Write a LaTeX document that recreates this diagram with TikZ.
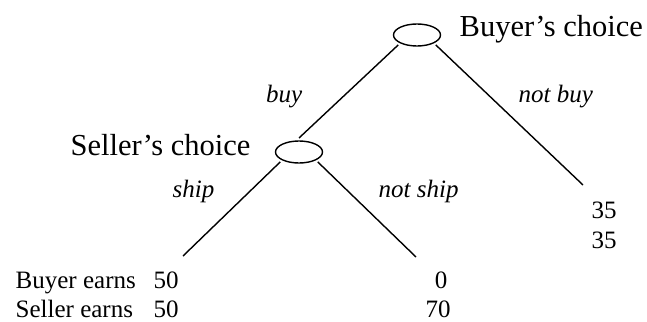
\documentclass[tikz,border=0pt]{standalone}
\usepackage{fontspec}
\setmainfont{Liberation Serif}
\usetikzlibrary{shapes.geometric}
\begin{document}
\begin{tikzpicture}[x=1pt, y=-1pt, line width=1.4pt,
    choice/.style={ellipse, draw, minimum width=47pt, minimum height=22pt, inner sep=0pt, outer sep=3pt},
    player/.style={font=\fontsize{30.5}{36}\selectfont, inner sep=0pt},
    move/.style={font=\fontsize{25}{30}\selectfont\itshape, inner sep=0pt},
    payoff/.style={font=\fontsize{25}{30}\selectfont, inner sep=0pt}]
        \useasboundingbox (0, 0) rectangle (647, 321);

        \node [ choice ] (buyer)  at (417,  35) {};
        \node [ choice ] (seller) at (299, 152) {};
        \coordinate (shipend)   at (183, 256);
        \coordinate (noshipend) at (416, 257);
        \coordinate (nobuyend)  at (583, 185);

        \draw (buyer.south west) -- (seller.north);
        \draw (buyer.south east) -- (nobuyend);
        \draw (seller.south west) -- (shipend);
        \draw (seller.south east) -- (noshipend);

        \node [ player, anchor=base west ] (buyername)  at (459,  37) {Buyer's choice};
        \node [ player, anchor=base west ] (sellername) at ( 70, 155) {Seller's choice};

        \node [ move, anchor=base east ] (buy)    at (303, 102) {buy};
        \node [ move, anchor=base west ] (nobuy)  at (518, 102) {not buy};
        \node [ move, anchor=base west ] (ship)   at (172, 197) {ship};
        \node [ move, anchor=base west ] (noship) at (378, 197) {not ship};

        \node [ payoff, anchor=base west ] (buyerearns)  at ( 15, 288) {Buyer earns};
        \node [ payoff, anchor=base west ] (sellerearns) at ( 15, 317) {Seller earns};
        \node [ payoff, anchor=base west ] (buyship)     at (153, 288) {50};
        \node [ payoff, anchor=base west ] (sellship)    at (153, 317) {50};
        \node [ payoff, anchor=base ]      (buynoship)   at (441, 288) {0};
        \node [ payoff, anchor=base ]      (sellnoship)  at (438, 317) {70};
        \node [ payoff, anchor=base west ] (buynobuy)    at (591, 218) {35};
        \node [ payoff, anchor=base west ] (sellnobuy)   at (591, 248) {35};
      \end{tikzpicture}
\end{document}
